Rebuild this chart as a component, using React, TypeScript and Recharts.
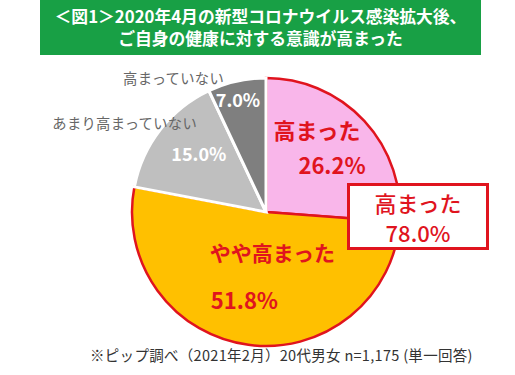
import { PieChart, Pie, Cell } from "recharts";

const categories = ["高まった", "やや高まった", "あまり高まっていない", "高まっていない"];
const shares = [26.2, 51.8, 15.0, 7.0];
const fills = ["#F9B6EA", "#FFC000", "#BFBFBF", "#7F7F7F"];
const strokes = ["#E0141E", "#E0141E", "#FFFFFF", "#FFFFFF"];

const titleLines = [
  "＜図1＞2020年4月の新型コロナウイルス感染拡大後、",
  "ご自身の健康に対する意識が高まった",
];
const note = "※ピップ調べ（2021年2月）20代男女 n=1,175 (単一回答)";

const data = categories.map((name, i) => ({ name, value: shares[i] }));
const raised = shares[0] + shares[1];

const RED = "#E0141E";
const FONT = "'Noto Sans CJK JP', 'Noto Sans', sans-serif";

const RADIAN = Math.PI / 180;

function SliceLabel(props: any) {
  const { cx, cy, midAngle, index, value, name } = props;
  const pt = (r: number) => ({
    x: cx + r * Math.cos(-midAngle * RADIAN),
    y: cy + r * Math.sin(-midAngle * RADIAN),
  });
  const pct = `${Number(value).toFixed(1)}%`;

  if (index === 0) {
    const p = pt(86);
    return (
      <text fill={RED} fontFamily={FONT} fontWeight={700} fontSize={22} textAnchor="middle">
        <tspan x={p.x - 12} y={p.y - 15}>{name}</tspan>
        <tspan x={p.x + 3} y={p.y + 20}>{pct}</tspan>
      </text>
    );
  }
  if (index === 1) {
    const p = pt(70);
    return (
      <text fill={RED} fontFamily={FONT} fontWeight={700} fontSize={21} textAnchor="start">
        <tspan x={p.x - 47} y={p.y - 20}>{name}</tspan>
        <tspan x={p.x - 46} y={p.y + 28} fontSize={22}>{pct}</tspan>
      </text>
    );
  }
  // gray slices: value inside, name outside to the upper left
  const p = index === 2 ? pt(85) : pt(110);
  const dx = index === 2 ? 0 : -4;
  const dy = index === 2 ? 1 : 2;
  const nameX = index === 2 ? cx - 69 : cx - 42;
  const nameY = index === 2 ? cy - 83 : cy - 128;
  return (
    <g>
      <text x={p.x + dx} y={p.y + dy} fill="#FFFFFF" fontFamily={FONT} fontWeight={700} fontSize={18} textAnchor="middle">
        {pct}
      </text>
      <text x={nameX} y={nameY} fill="#666666" fontFamily={FONT} fontSize={14.3} letterSpacing={0.3} textAnchor="end">
        {name}
      </text>
    </g>
  );
}

export default function App() {
  return (
    <div style={{ position: "absolute", left: 0, top: 0, width: 515, height: 375, background: "#fff", fontFamily: FONT }}>
      <div
        style={{
          position: "absolute",
          left: 40,
          top: 0,
          width: 441,
          height: 55,
          background: "#18A045",
          color: "#fff",
          fontWeight: 700,
          fontSize: 16.8,
          lineHeight: "22px",
          textAlign: "center",
          paddingTop: 5,
          boxSizing: "border-box",
        }}
      >
        {titleLines.map((t) => (
          <div key={t}>{t}</div>
        ))}
      </div>

      <PieChart width={515} height={375} style={{ position: "absolute", left: 0, top: 0 }}>
        <Pie
          data={data}
          dataKey="value"
          nameKey="name"
          cx={261}
          cy={207}
          outerRadius={134}
          startAngle={90}
          endAngle={-270}
          label={SliceLabel}
          labelLine={false}
          isAnimationActive={false}
        >
          {data.map((d, i) => (
            <Cell key={d.name} fill={fills[i]} stroke={strokes[i]} strokeWidth={i < 2 ? 2.5 : 3} />
          ))}
        </Pie>
      </PieChart>

      <div
        style={{
          position: "absolute",
          left: 347,
          top: 183,
          width: 142,
          height: 67,
          border: `3px solid ${RED}`,
          background: "#fff",
          boxSizing: "border-box",
          color: RED,
          fontSize: 22,
          lineHeight: "30px",
          textAlign: "center",
          paddingTop: 1,
          fontWeight: 500,
        }}
      >
        <div>{categories[0]}</div>
        <div>{raised.toFixed(1)}%</div>
      </div>

      <div
        style={{
          position: "absolute",
          left: 90,
          top: 345,
          fontSize: 14.5,
          letterSpacing: 0.3,
          color: "#333",
          whiteSpace: "nowrap",
          lineHeight: "20px",
        }}
      >
        {note}
      </div>
    </div>
  );
}
